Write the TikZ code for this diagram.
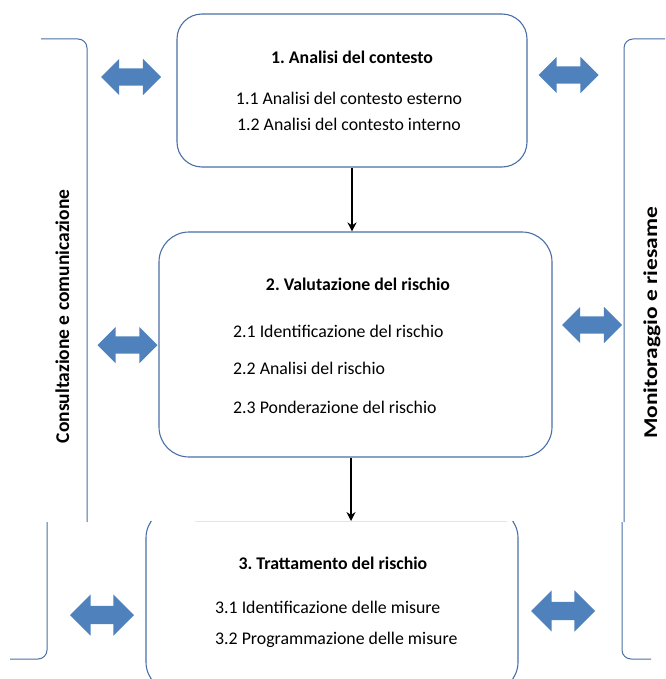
\documentclass[tikz,border=0pt]{standalone}
\usepackage{fontspec}
\setmainfont{Carlito}
\frenchspacing
\usepackage{tikz}
\usetikzlibrary{arrows.meta,shapes.arrows}
\definecolor{frame}{HTML}{4A6FA5}
\definecolor{fillblue}{HTML}{4F81BD}
\definecolor{faint}{HTML}{E2E5EA}
\tikzset{
  box/.style={draw=frame,line width=1.1pt,rounded corners=#1,inner sep=0pt},
  bracket/.style={draw=frame,line width=1pt,rounded corners=9pt},
  swap/.style={double arrow,fill=fillblue,inner xsep=0pt,inner ysep=8.5pt,
    double arrow head extend=9.5pt,minimum height=60pt},
  bigswap/.style={swap,inner ysep=9pt,double arrow head extend=11.5pt,minimum height=64pt},
  flow/.style={-{Stealth[length=9pt,width=9pt]},draw=black,line width=2pt},
  txt/.style={font=\fontsize{17.8pt}{20pt}\selectfont,inner sep=0pt,anchor=base},
  head/.style={txt,font=\fontsize{17.8pt}{20pt}\selectfont\bfseries},
  side/.style={font=\fontsize{19.5pt}{22pt}\selectfont\bfseries,inner sep=0pt,anchor=base,rotate=90}
}

\begin{document}
\begin{tikzpicture}[x=1pt,y=-1pt]
  \useasboundingbox (0,0) rectangle (665,679);
  % brackets
  \draw[bracket] (41,39) -- (87,39) -- (87,522);
  \draw[bracket] (47,522) -- (47,659) -- (10,659);
  \draw[bracket] (665,39) -- (624,39) -- (624,522);
  \draw[bracket] (622,522) -- (622,659) -- (651,659);
  \node[side] (cons) at (69,316.5) {Consultazione e comunicazione};
  \node[side] (moni) at (657,323) {\scalebox{1.2}[1]{Monitoraggio e riesame}};
  % boxes
  \node[box=25pt,minimum width=350pt,minimum height=153pt] (analisi) at (352,90.5) {};
  \node[box=30pt,minimum width=393pt,minimum height=225pt] (valut) at (355.5,344.5) {};
  \begin{scope}
    \clip (0,521) rectangle (665,679);
    \node[box=30pt,minimum width=372pt,minimum height=184pt] (tratt) at (332,600) {};
  \end{scope}
  \draw[faint,line width=.8pt] (195,521) -- (507,521);
  \coordinate (trattop) at (351,521);
  % texts
  \node[head] (h1) at (352,64) {1. Analisi del contesto};
  \node[txt] (a11) at (349,105) {1.1 Analisi del contesto esterno};
  \node[txt] (a12) at (349,131) {1.2 Analisi del contesto interno};
  \node[head] (h2) at (358,290) {2. Valutazione del rischio};
  \node[txt,anchor=base west] (v21) at (233,337) {2.1 Identificazione del rischio};
  \node[txt,anchor=base west] (v22) at (233,374) {2.2 Analisi del rischio};
  \node[txt,anchor=base west] (v23) at (233,413) {2.3 Ponderazione del rischio};
  \node[head] (h3) at (333,569) {3. Trattamento del rischio};
  \node[txt,anchor=base west] (t31) at (215,613) {3.1 Identificazione delle misure};
  \node[txt,anchor=base west] (t32) at (215,644) {3.2 Programmazione delle misure};
  % flow
  \draw[flow] (analisi.south) -- (analisi.south |- valut.north);
  \draw[flow] (valut.south -| trattop) -- (trattop);
  % double arrows
  \node[swap] (ca1) at (131,77) {};
  \node[swap] (mr1) at (568.5,75) {};
  \node[swap] (ca2) at (127.5,345) {};
  \node[swap] (mr2) at (592,325) {};
  \node[bigswap] (ca3) at (102,615) {};
  \node[bigswap] (mr3) at (563,611) {};
\end{tikzpicture}
\end{document}
